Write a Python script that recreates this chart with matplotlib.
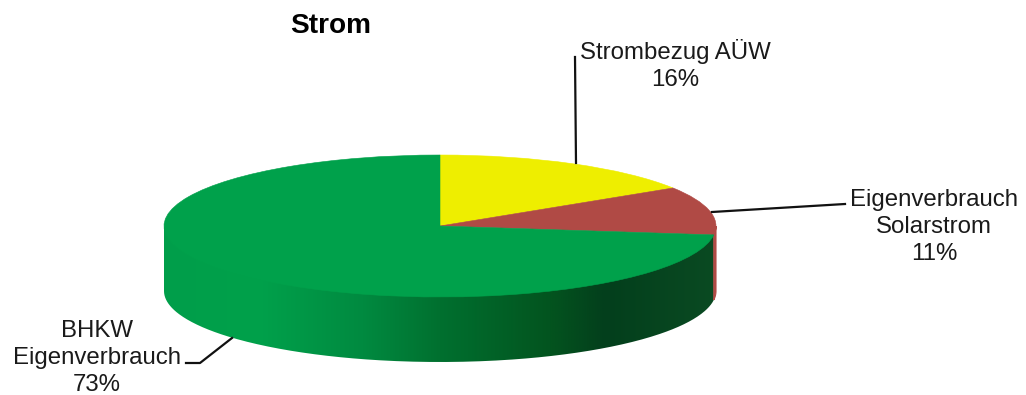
import numpy as np
import matplotlib
matplotlib.use('Agg')
import matplotlib.pyplot as plt
from matplotlib.colors import LinearSegmentedColormap
from matplotlib.lines import Line2D
from matplotlib.patches import PathPatch
from matplotlib.path import Path

plt.rcParams['font.family'] = ['Liberation Sans', 'DejaVu Sans']

W, H = 1026, 395
title = 'Strom'
labels = ['Strombezug AÜW', 'Eigenverbrauch\nSolarstrom', 'BHKW\nEigenverbrauch']
values = [16, 11, 73]
colors = ['#EEEE00', '#B04A45', '#00A14B']

# pie geometry in pixels of the picture
cx, cy = 440, 226
rx, ry = 276, 71
depth = 65 / ry


def fx(x):
    return x / W


def fy(y):
    return 1 - y / H


fig = plt.figure(figsize=(W / 100, H / 100), dpi=100)
ax = fig.add_axes([0, 0, 1, 1])
wedges, _ = ax.pie(values, colors=colors, startangle=90, counterclock=False, radius=1,
                   wedgeprops={'linewidth': 0})
for w, c in zip(wedges, colors):
    w.set_zorder(5)
    # edge in the slice colour closes the hairline between slices
    w.set_edgecolor(c)
    w.set_linewidth(0.4)
ax.set_aspect('auto')
ax.axis('off')

# side wall, lower half of the ellipse (runs a bit under the top face so no seam shows)
end_angle = 90 - 360 * (values[0] + values[1]) / sum(values)
t = np.radians(np.linspace(180, 360 + end_angle, 300))
px = np.concatenate([np.cos(t), np.cos(t[::-1])])
py = np.concatenate([np.sin(t) - depth, np.sin(t[::-1]) + 0.06])
side = PathPatch(Path(np.column_stack([px, py])), fc='none', ec='none', transform=ax.transData)
ax.add_patch(side)
grad = LinearSegmentedColormap.from_list('side', [
    (0.0, '#009E4A'), (0.17, '#00A14B'), (0.36, '#008A40'),
    (0.5, '#00702F'), (0.7, '#03541F'), (0.80, '#033F1C'), (1.0, '#0A4A22')])
im = ax.imshow(np.linspace(0, 1, 256).reshape(1, -1), cmap=grad, aspect='auto',
               extent=(-1, 1, -1 - depth, 0.1), zorder=2)
im.set_clip_path(side)

# thin red part of the wall at the right edge
t2 = np.radians(np.linspace(360 + end_angle, 360, 20))
ax.fill(np.concatenate([np.cos(t2), np.cos(t2[::-1])]),
        np.concatenate([np.sin(t2), np.sin(t2[::-1]) - depth]),
        color=colors[1], lw=0.8, zorder=3)
ax.set_xlim(-cx / rx, (W - cx) / rx)
ax.set_ylim((cy - H) / ry, cy / ry)

# leader lines
leaders = [
    ([576, 575], [163, 57]),
    ([712, 845], [212, 204]),
    ([232, 200, 186], [338, 363, 363]),
]
for xs, ys in leaders:
    fig.add_artist(Line2D([fx(v) for v in xs], [fy(v) for v in ys],
                          color='#111111', lw=1.6, transform=fig.transFigure))

txt = dict(ha='center', va='center', fontsize=17.3, color='#1a1a1a', linespacing=1.3)
fig.text(fx(675), fy(65), labels[0] + '\n%d%%' % values[0], **txt)
fig.text(fx(934), fy(227), labels[1] + '\n%d%%' % values[1], **txt)
fig.text(fx(97), fy(358), labels[2] + '\n%d%%' % values[2], **txt)
fig.text(fx(331), fy(26), title, ha='center', va='center', fontsize=20.2,
         fontweight='bold', color='black')

fig.savefig('out.png', dpi=100)
